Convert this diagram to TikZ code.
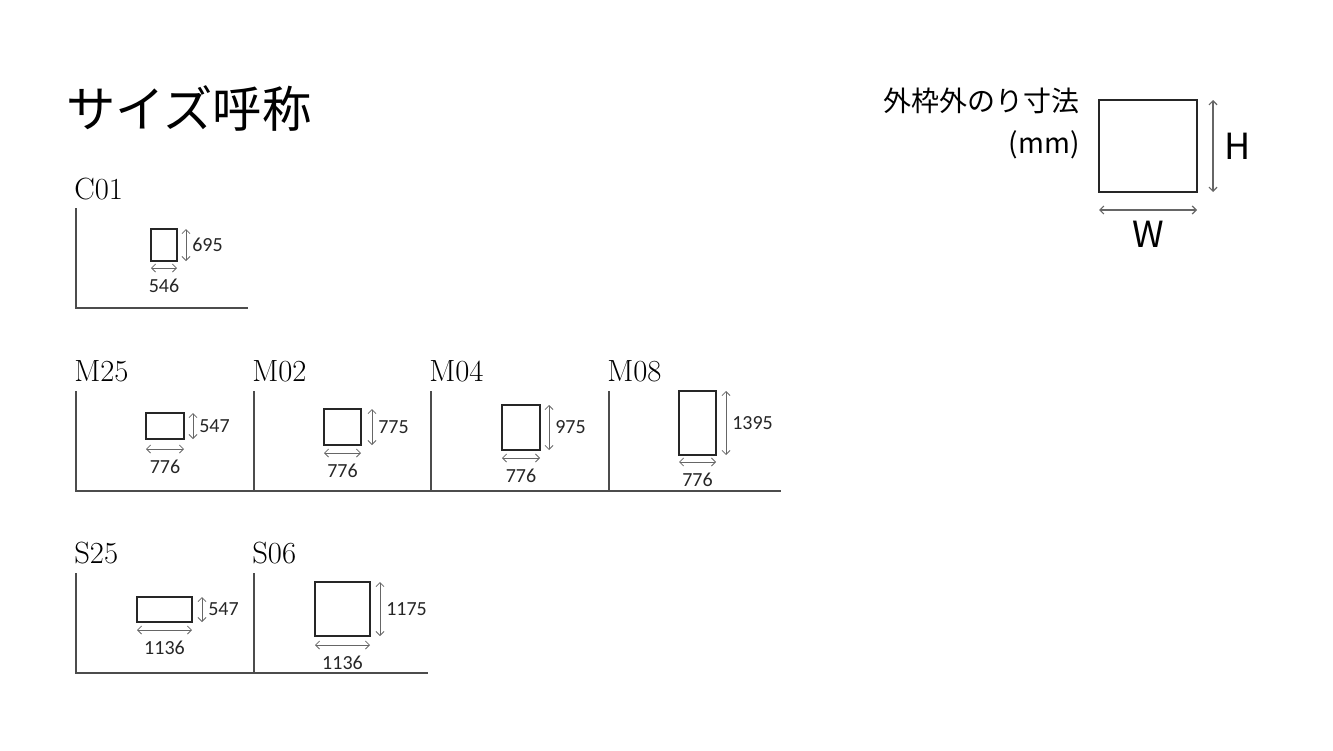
\documentclass[tikz,border=0pt]{standalone}
\usepackage{fontspec}
\setmainfont{Carlito}
\newfontfamily\jp{Noto Sans CJK JP}
\newfontfamily\lab{Latin Modern Roman}
\usetikzlibrary{arrows.meta}
\begin{document}
\begin{tikzpicture}[x=0.75pt,y=-0.75pt,
  frame/.style={draw=black!70,line width=0.9pt},
  sbox/.style={draw=black!85,line width=1.1pt},
  dim/.style={draw=black!60,line width=0.6pt,{Straight Barb[length=3pt,width=6pt]}-{Straight Barb[length=3pt,width=6pt]}},
  num/.style={font=\fontsize{15}{15}\selectfont,text=black!85,inner sep=0pt},
  lbl/.style={font=\lab\fontsize{23}{23}\selectfont,anchor=west,inner sep=0pt}]
\useasboundingbox (0,0) rectangle (1333,750);
\node[font=\jp\fontsize{37}{37}\selectfont,anchor=west,inner sep=0pt] (title) at (66,108) {サイズ呼称};
% C01
\node[lbl] (lc01) at (74,189) {C01};
\draw[frame] (76,208) coordinate (c01t) -- (76,308) -- (248,308);
\draw[sbox] (151,229) rectangle (177,261);
\coordinate (a1) at (186,229); \coordinate (a2) at (186,261);
\draw[dim] (a1) -- (a2);
\node[num,anchor=west] (h1) at (192,245) {695};
\coordinate (b1) at (151,268); \coordinate (b2) at (177,268);
\draw[dim] (b1) -- (b2);
\node[num] (w1) at (164,286) {546};
% row M
\node[lbl] (lm25) at (74,371) {M25};
\node[lbl] (lm02) at (252,371) {M02};
\node[lbl] (lm04) at (429,371) {M04};
\node[lbl] (lm08) at (607,371) {M08};
\draw[frame] (76,391) -- (76,491) -- (781,491);
\draw[frame] (254,391) -- (254,491);
\draw[frame] (431,391) -- (431,491);
\draw[frame] (609,391) -- (609,491);
\foreach \x/\y/\X/\Y/\h/\w/\ha/\wy in {146/413/184/439/547/776/193/449, 324/409/361/445/775/776/372/453, 502/405/540/450/975/776/549/458, 679/391/716/455/1395/776/726/462, 137/597/192/622/547/1136/202/630, 315/582/370/636/1175/1136/380/645}{
  \draw[sbox] (\x,\y) rectangle (\X,\Y);
  \draw[dim] (\ha,\y) -- (\ha,\Y);
  \node[num,anchor=west] at ({\ha+6},{(\y+\Y)/2}) {\h};
  \draw[dim] (\x,\wy) -- (\X,\wy);
  \node[num] at ({(\x+\X)/2},{\wy+18}) {\w};
}
% row S
\node[lbl] (ls25) at (74,553) {S25};
\node[lbl] (ls06) at (252,553) {S06};
\draw[frame] (76,573) -- (76,673) -- (428,673);
\draw[frame] (254,573) -- (254,673);
% legend
\node[font=\jp\fontsize{21}{21}\selectfont,anchor=east,inner sep=0pt] (lg1) at (1080,101) {外枠外のり寸法};
\node[font=\jp\fontsize{21}{21}\selectfont,anchor=east,inner sep=0pt] (lg2) at (1080,145) {(mm)};
\draw[draw=black!85,line width=2pt] (1099,100) rectangle (1197,192);
\draw[dim,line width=0.9pt] (1213,100) -- (1213,192);
\node[font=\jp\fontsize{27}{27}\selectfont,anchor=west,inner sep=0pt] (H) at (1224,146) {H};
\draw[dim,line width=0.9pt] (1099,210) -- (1197,210);
\node[font=\jp\fontsize{27}{27}\selectfont,inner sep=0pt] (W) at (1148,234) {W};
\end{tikzpicture}
\end{document}
